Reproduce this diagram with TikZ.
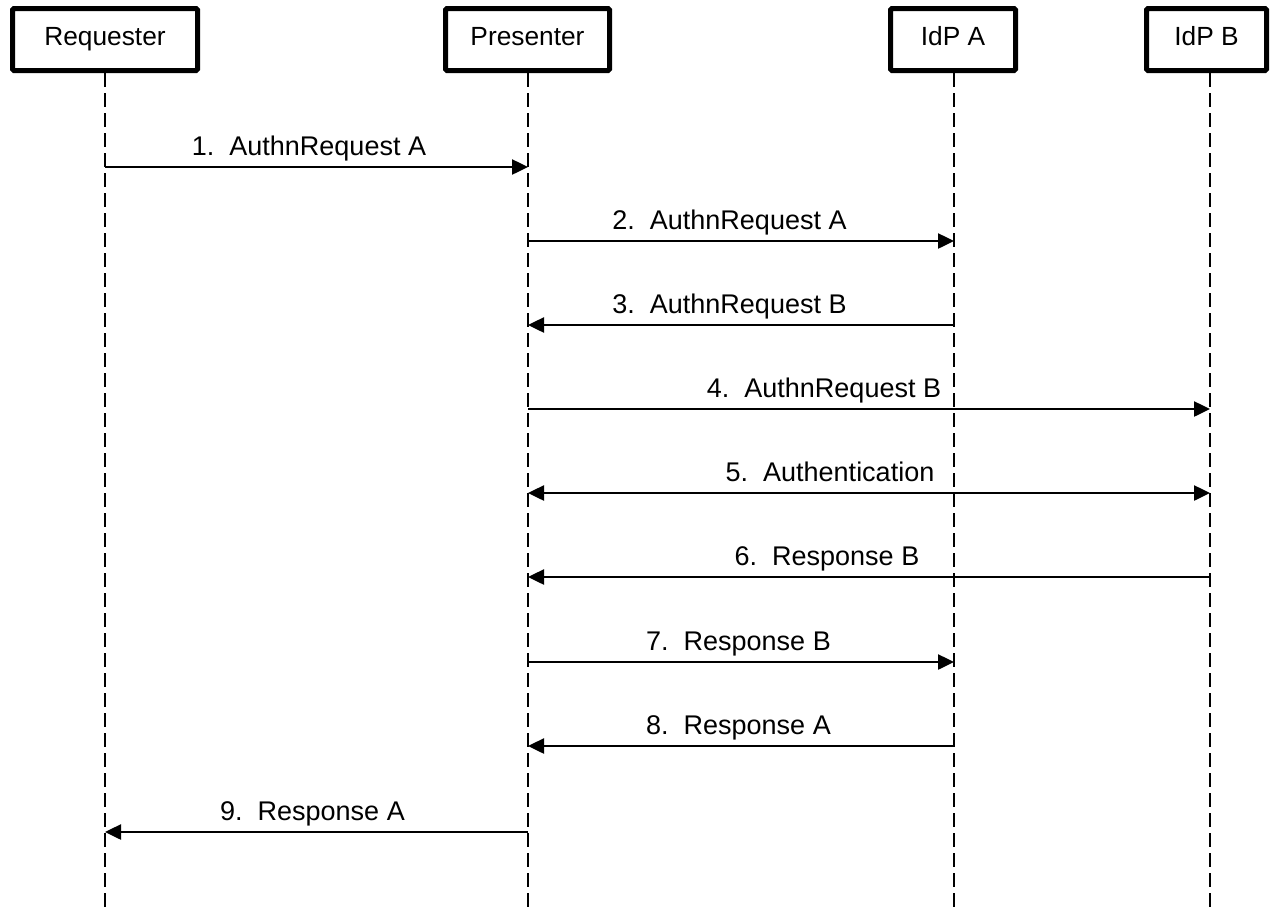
\documentclass[tikz,border=0pt]{standalone}
\usepackage{fontspec}
\setmainfont{Liberation Sans}
\usetikzlibrary{arrows.meta}
\begin{document}
\begin{tikzpicture}[x=1pt,y=-1pt,
  actor/.style={draw,line width=5pt,rounded corners=1.5pt,inner sep=0pt,text height=18.8pt,text depth=7pt,font=\fontsize{26.3}{30}\selectfont},
  life/.style={line width=2pt,dash pattern=on 14pt off 6pt},
  msg/.style={line width=2.5pt,-{Triangle[length=16pt,width=15pt]}},
  both/.style={line width=2.5pt,{Triangle[length=16pt,width=15pt]}-{Triangle[length=16pt,width=15pt]}},
  lbl/.style={anchor=base,inner sep=0pt,font=\fontsize{27}{31}\selectfont}]
\useasboundingbox (0,0) rectangle (1270,911);
% actor boxes
\node[actor,minimum width=185pt,minimum height=62pt] (req) at (105,39.5) {Requester};
\node[actor,minimum width=164pt,minimum height=62pt] (pre) at (527.5,39.5) {Presenter};
\node[actor,minimum width=125pt,minimum height=62pt] (ida) at (953,39.5) {IdP A};
\node[actor,minimum width=120pt,minimum height=62pt] (idb) at (1206.5,39.5) {IdP B};
% lifeline ends
\coordinate (reqE) at (105,911);
\coordinate (preE) at (528,911);
\coordinate (idaE) at (954,911);
\coordinate (idbE) at (1210,911);
\draw[life] (req.south -| reqE) -- (reqE);
\draw[life] (pre.south -| preE) -- (preE);
\draw[life] (ida.south -| idaE) -- (idaE);
\draw[life] (idb.south -| idbE) -- (idbE);
% message points
\coordinate (r1) at (105,167); \coordinate (p1) at (528,167);
\coordinate (p2) at (528,241); \coordinate (a2) at (954,241);
\coordinate (a3) at (954,325); \coordinate (p3) at (528,325);
\coordinate (p4) at (528,409); \coordinate (b4) at (1210,409);
\coordinate (p5) at (528,493); \coordinate (b5) at (1210,493);
\coordinate (b6) at (1210,577); \coordinate (p6) at (528,577);
\coordinate (p7) at (528,662); \coordinate (a7) at (954,662);
\coordinate (a8) at (954,746); \coordinate (p8) at (528,746);
\coordinate (p9) at (528,832); \coordinate (r9) at (105,832);
\draw[msg] (r1) -- (p1);
\draw[msg] (p2) -- (a2);
\draw[msg] (a3) -- (p3);
\draw[msg] (p4) -- (b4);
\draw[both] (p5) -- (b5);
\draw[msg] (b6) -- (p6);
\draw[msg] (p7) -- (a7);
\draw[msg] (a8) -- (p8);
\draw[msg] (p9) -- (r9);
% labels
\node[lbl] (l1) at (309,155) {1.\ \ AuthnRequest A};
\node[lbl] (l2) at (729.5,229) {2.\ \ AuthnRequest A};
\node[lbl] (l3) at (729.5,313) {3.\ \ AuthnRequest B};
\node[lbl] (l4) at (824,397) {4.\ \ AuthnRequest B};
\node[lbl] (l5) at (830,481) {5.\ \ Authentication};
\node[lbl] (l6) at (827,565) {6.\ \ Response B};
\node[lbl] (l7) at (738.5,650) {7.\ \ Response B};
\node[lbl] (l8) at (738.5,734) {8.\ \ Response A};
\node[lbl] (l9) at (312.5,820) {9.\ \ Response A};
\end{tikzpicture}
\end{document}
